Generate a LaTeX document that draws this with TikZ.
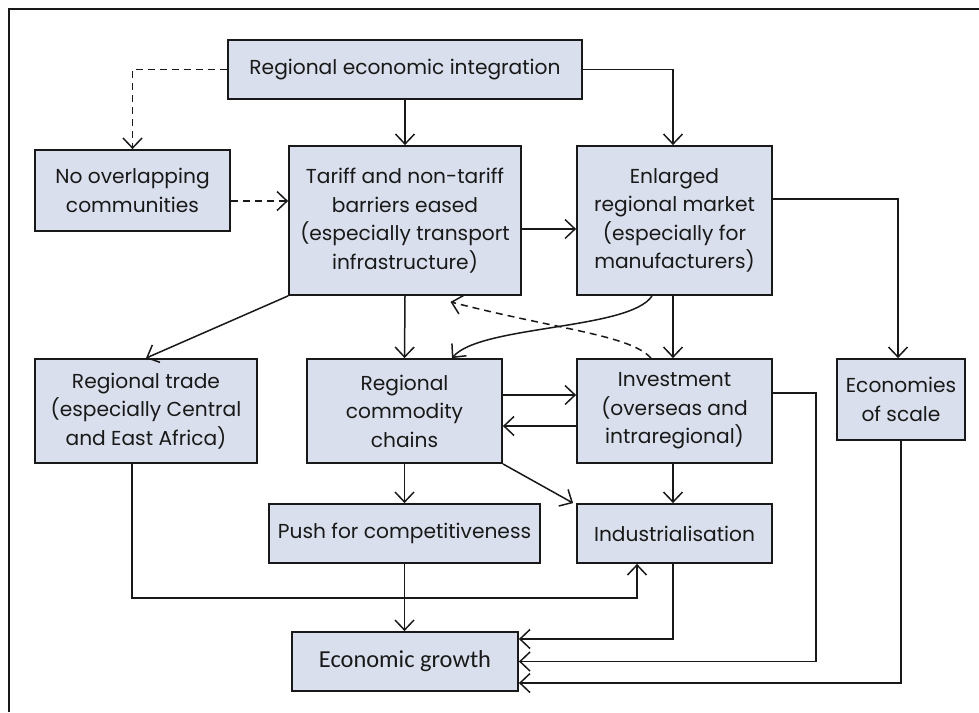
\documentclass[tikz,border=0pt]{standalone}
\usepackage{fontspec}
\setmainfont{Poppins}
\newfontfamily\egfont{Carlito}
\usetikzlibrary{arrows.meta}
\definecolor{boxfill}{RGB}{217,223,236}
\definecolor{ink}{RGB}{25,25,25}
\tikzset{
  box/.style={draw=ink, line width=1.8pt, fill=boxfill, align=center, inner sep=2pt,
    font=\fontsize{20.2}{28.5}\selectfont, text=ink},
  arr/.style={draw=ink, line width=1.5pt, -{Straight Barb[length=10pt,width=19pt,line width=1.5pt]}},
  dsh/.style={dashed, dash pattern=on 7pt off 5pt},
}
\begin{document}
\begin{tikzpicture}[x=1pt,y=-1pt]
\useasboundingbox (0,0) rectangle (979,712);
\draw[ink, line width=1.5pt] (9,712) -- (9,9) -- (979,9);

\node[box, minimum width=354pt, minimum height=59pt] (REI) at (405,69.5) {Regional economic integration};
\node[box, minimum width=195pt, minimum height=81pt] (NOC) at (132.5,190.5) {No overlapping\\communities};
\node[box, minimum width=232pt, minimum height=149pt] (TAR) at (405,220.5) {Tariff and non-tariff\\barriers eased\\(especially transport\\infrastructure)};
\node[box, minimum width=195pt, minimum height=149pt] (ENL) at (674.5,220.5) {Enlarged\\regional market\\(especially for\\manufacturers)};
\node[box, minimum width=222pt, minimum height=104pt] (RT) at (146,411) {Regional trade\\(especially Central\\and East Africa)};
\node[box, minimum width=195pt, minimum height=104pt] (RCC) at (404.5,411) {Regional\\commodity\\chains};
\node[box, minimum width=195pt, minimum height=104pt] (INV) at (674.5,411) {Investment\\(overseas and\\intraregional)};
\node[box, minimum width=128pt, minimum height=81pt] (EOS) at (901,399.5) {Economies\\of scale};
\node[box, minimum width=271pt, minimum height=59pt] (PUSH) at (404.5,533.5) {Push for competitiveness};
\node[box, minimum width=195pt, minimum height=59pt] (IND) at (674.5,533.5) {Industrialisation};
\node[box, minimum width=226pt, minimum height=59pt, font=\egfont\fontsize{24.4}{28}\selectfont] (EG) at (405,661.5) {Economic growth};

\coordinate (rtc) at (132,598);

% top
\draw[arr, dsh] (REI.west) -| (NOC.north);
\draw[arr] (REI.south) -- (TAR.north);
\draw[arr] (REI.east) -| ([xshift=-1.5pt]ENL.north);
\draw[arr, dsh] ([yshift=-10.5pt]NOC.east) -- ([yshift=-10.5pt]NOC.east -| TAR.west);
\draw[arr] ([yshift=-8.5pt]TAR.east) -- ([yshift=-8.5pt]TAR.east -| ENL.west);
\draw[arr] ([yshift=21.5pt]ENL.east) -| ([xshift=-3pt]EOS.north);
% middle
\draw[arr] (TAR.south west) -- (RT.north);
\draw[arr] (TAR.south) -- (RCC.north);
\draw[arr] ([xshift=-1.5pt]ENL.south) -- ([xshift=-1.5pt]INV.north);
\draw[arr] ([xshift=-22.5pt]ENL.south) .. controls (630,330) and (480,325) .. ([xshift=47.5pt]RCC.north);
\draw[arr, dsh] ([xshift=-23.5pt]INV.north) .. controls (630,335) and (560,330) .. ([xshift=45.5pt,yshift=-6pt]TAR.south);
\draw[arr] ([yshift=16pt]RCC.east) -- ([yshift=16pt]RCC.east -| INV.west);
\draw[arr] ([yshift=-15pt]INV.west) -- ([yshift=-15pt]INV.west -| RCC.east);
% lower
\draw[arr] (RCC.south) -- (PUSH.north);
\draw[arr] (RCC.south east) -- ([xshift=-3pt]IND.north west);
\draw[arr] ([xshift=-1.5pt]INV.south) -- ([xshift=-1.5pt]IND.north);
\draw[arr] (PUSH.south) -- (PUSH.south |- EG.north);
\draw[arr] ([xshift=-14pt]RT.south) -- (rtc) -| ([xshift=-37.5pt]IND.south);
\draw[arr] ([xshift=-1.5pt]IND.south) |- ([yshift=22.5pt]EG.east);
\draw[arr] ([yshift=18pt]INV.east) -- ++(43,0) |- (EG.east);
\draw[arr] (EOS.south) |- ([yshift=-21.5pt]EG.east);
\end{tikzpicture}
\end{document}
